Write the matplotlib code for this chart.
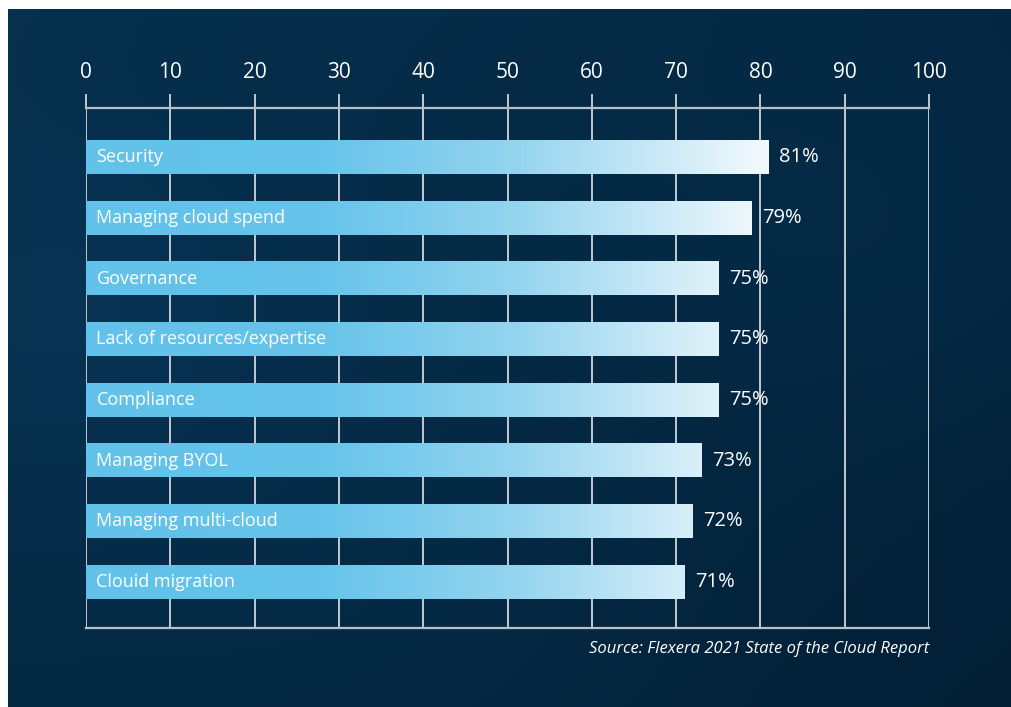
import numpy as np
import matplotlib
matplotlib.use("Agg")
import matplotlib.pyplot as plt
from matplotlib.colors import LinearSegmentedColormap, Normalize

categories = ["Security", "Managing cloud spend", "Governance",
              "Lack of resources/expertise", "Compliance", "Managing BYOL",
              "Managing multi-cloud", "Clouid migration"]
values = [81, 79, 75, 75, 75, 73, 72, 71]
xticks = [0, 10, 20, 30, 40, 50, 60, 70, 80, 90, 100]
source = "Source: Flexera 2021 State of the Cloud Report"

W, H = 1011, 707
fig = plt.figure(figsize=(W / 100, H / 100), dpi=100, facecolor="white")

# background panel
bg = fig.add_axes([8 / W, 0, 1 - 8 / W, 1 - 9 / H])
bg.set_axis_off()
yy, xx = np.mgrid[0:1:200j, 0:1:300j]
c1 = np.array([6, 48, 78]) / 255.0
c2 = np.array([2, 31, 53]) / 255.0
t = np.clip(0.55 * xx + 0.45 * yy, 0, 1)[..., None]
img = c1 * (1 - t) + c2 * t
for cx, cy, r, a in [(0.08, 0.45, 0.18, 0.04), (0.9, 0.35, 0.2, 0.03), (0.4, 0.9, 0.25, 0.025)]:
    d = np.exp(-((xx - cx) ** 2 + (yy - cy) ** 2) / (2 * r ** 2))[..., None]
    img = img + a * d * np.array([0.2, 0.6, 1.0])
bg.imshow(np.clip(img, 0, 1), aspect="auto", extent=[0, 1, 0, 1], origin="upper")

# main axes
left, right = 86 / W, 929 / W
top, bottom = 1 - 108 / H, 1 - 628 / H
ax = fig.add_axes([left, bottom, right - left, top - bottom])
ax.patch.set_alpha(0)
n = len(categories)

gridc = "#c3c9cf"
for x in xticks:
    ax.axvline(x, color=gridc, lw=1.4, zorder=1)
for s in ["top", "bottom"]:
    ax.spines[s].set_color("#b9c0c7")
    ax.spines[s].set_linewidth(1.6)
for s in ["left", "right"]:
    ax.spines[s].set_visible(False)

ax.xaxis.tick_top()
ax.set_xticks(xticks)
ax.set_xticklabels([str(v) for v in xticks])
ax.tick_params(axis="x", which="both", top=True, bottom=False, length=10,
               width=1.4, color=gridc, pad=8, labelsize=15, labelcolor="white")
for lab in ax.get_xticklabels():
    lab.set_fontfamily("Open Sans")
ax.set_yticks([])

cmap = LinearSegmentedColormap.from_list(
    "barg", [(0.0, "#62c2ea"), (0.34, "#66c4ea"), (0.62, "#94d4ef"), (1.0, "#f6fbfe")])
norm = Normalize(0, 82)
h = 0.55
for i, (cat, v) in enumerate(zip(categories, values)):
    xs = np.linspace(0, v, 400)
    grad = cmap(norm(xs))[None, :, :]
    ax.imshow(grad, extent=[0, v, i + h / 2, i - h / 2], aspect="auto",
              interpolation="bilinear", zorder=2)
    ax.annotate(cat, xy=(0, i), xytext=(7.5, 0), textcoords="offset points",
                va="center", ha="left", color="white", fontsize=13,
                fontfamily="Open Sans", zorder=3)
    ax.annotate(f"{v}%", xy=(v, i), xytext=(7.5, 0), textcoords="offset points",
                va="center", ha="left", color="white", fontsize=14.5,
                fontfamily="Open Sans", zorder=3)
ax.set_xlim(0, 100)
ax.set_ylim(n - 1 + 0.76, -0.81)

fig.text(929 / W, 1 - 649 / H, source, ha="right", va="center", color="white",
         fontsize=12, style="italic", fontfamily="Open Sans")

fig.savefig("out.png", dpi=100, facecolor=fig.get_facecolor())
